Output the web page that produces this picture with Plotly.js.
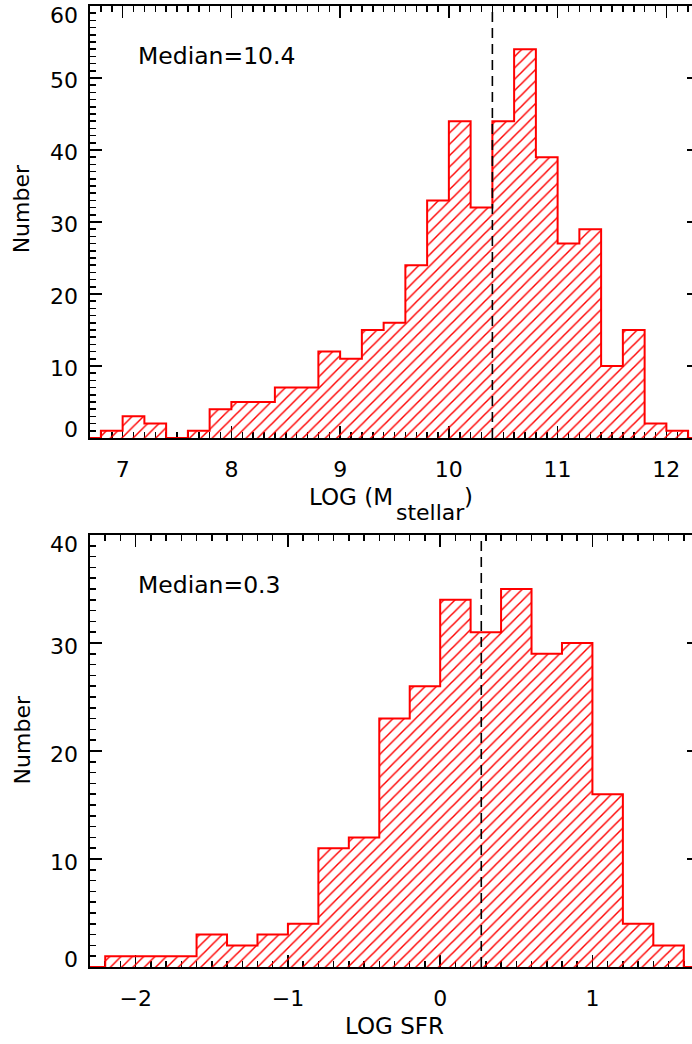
<!DOCTYPE html>
<html>
<head>
<meta charset="utf-8">
<script src="https://cdn.plot.ly/plotly-3.0.1.min.js"></script>
<style>
  html, body { margin: 0; padding: 0; overflow: hidden; background: #fff; }
  #chart { width: 700px; height: 1044px; }
</style>
</head>
<body>
<div id="chart"></div>
<script>
// Histogram bin width (dex)
const BIN_WIDTH = 0.2;

// Stellar mass histogram: left edge of each bin and its count
const massBins = [6.8, 7.0, 7.2, 7.4, 7.6, 7.8, 8.0, 8.2, 8.4, 8.6, 8.8, 9.0, 9.2, 9.4,
                  9.6, 9.8, 10.0, 10.2, 10.4, 10.6, 10.8, 11.0, 11.2, 11.4, 11.6, 11.8, 12.0];
const massCounts = [1, 3, 2, 0, 1, 4, 5, 5, 7, 7, 12, 11, 15, 16,
                    24, 33, 44, 32, 44, 54, 39, 27, 29, 10, 15, 2, 1];
const massMedian = 10.4;
const massTicks = [7, 8, 9, 10, 11, 12];
const massCountTicks = [0, 10, 20, 30, 40, 50, 60];

// Star formation rate histogram
const sfrBins = [-2.2, -2.0, -1.8, -1.6, -1.4, -1.2, -1.0, -0.8, -0.6, -0.4,
                 -0.2, 0.0, 0.2, 0.4, 0.6, 0.8, 1.0, 1.2, 1.4];
const sfrCounts = [1, 1, 1, 3, 2, 3, 4, 11, 12, 23,
                   26, 34, 31, 35, 29, 30, 16, 4, 2];
const sfrMedian = 0.27;
const sfrTicks = [-2, -1, 0, 1];
const sfrCountTicks = [0, 10, 20, 30, 40];

const massRange = [6.7, 12.3];
const sfrRange = [-2.3, 1.7];

const RED = '#ff0000';
const FONT = 'DejaVu Sans';

// Outline of a histogram as a stepped path, running along zero outside the bins
function stepOutline(bins, counts, range) {
  const x = [range[0]], y = [0];
  bins.forEach((b, i) => { x.push(b); y.push(counts[i]); });
  x.push(bins[bins.length - 1] + BIN_WIDTH); y.push(0);
  x.push(range[1]); y.push(0);
  return { x, y };
}

function hatchedBars(bins, counts, xa, ya) {
  return {
    type: 'bar',
    x: bins.map(b => b + BIN_WIDTH / 2),
    y: counts,
    width: BIN_WIDTH,
    xaxis: xa, yaxis: ya,
    hoverinfo: 'skip',
    marker: {
      color: 'rgba(255,255,255,0)',
      line: { width: 0 },
      pattern: { shape: '/', fgcolor: RED, bgcolor: 'rgba(255,255,255,0)',
                 size: 8, solidity: 0.18, fillmode: 'replace' }
    }
  };
}

function outlineTrace(bins, counts, range, xa, ya) {
  const s = stepOutline(bins, counts, range);
  return {
    type: 'scatter', mode: 'lines',
    x: s.x, y: s.y, xaxis: xa, yaxis: ya,
    line: { color: RED, width: 2, shape: 'hv' },
    hoverinfo: 'skip'
  };
}

const traces = [
  hatchedBars(massBins, massCounts, 'x', 'y'),
  outlineTrace(massBins, massCounts, massRange, 'x', 'y'),
  hatchedBars(sfrBins, sfrCounts, 'x2', 'y2'),
  outlineTrace(sfrBins, sfrCounts, sfrRange, 'x2', 'y2')
];

function axisStyle(extra) {
  return Object.assign({
    ticks: 'inside', ticklen: 12, tickwidth: 1.5, tickcolor: '#000',
    showline: true, linewidth: 2, linecolor: '#000', mirror: 'ticks',
    showgrid: false, zeroline: false, layer: 'below traces',
    fixedrange: true
  }, extra);
}

function minorStyle(dtick) {
  return { tickmode: 'linear', tick0: 0, dtick: dtick, ticks: 'inside',
           ticklen: 6, tickwidth: 1.5, tickcolor: '#000', showgrid: false };
}

// Count labels on the left: end labels are nudged inward so they sit inside the frame
function countLabels(ticks, yref) {
  const last = ticks.length - 1;
  return ticks.map((v, i) => ({
    xref: 'paper', yref: yref, x: -0.0164, y: v,
    xanchor: 'right', yanchor: 'middle', showarrow: false,
    yshift: i === 0 ? 8 : (i === last ? -9 : -3),
    text: String(v), font: { size: 22 }
  }));
}

const layout = {
  width: 700, height: 1044,
  margin: { l: 90, r: 1, t: 6, b: 77 },
  paper_bgcolor: '#fff', plot_bgcolor: '#fff',
  showlegend: false,
  bargap: 0,
  font: { family: FONT, size: 22, color: '#000' },
  xaxis: axisStyle({ anchor: 'y', domain: [0, 1], range: massRange,
    tickmode: 'array', tickvals: massTicks, ticktext: massTicks.map(String),
    minor: minorStyle(0.1), ticklabelstandoff: 11 }),
  yaxis: axisStyle({ anchor: 'x', domain: [0.5505, 1], range: [0, 60],
    tickmode: 'array', tickvals: massCountTicks, showticklabels: false,
    minor: minorStyle(1) }),
  xaxis2: axisStyle({ anchor: 'y2', domain: [0, 1], range: sfrRange,
    tickmode: 'array', tickvals: sfrTicks,
    ticktext: sfrTicks.map(v => v < 0 ? '\u2212' + Math.abs(v) : String(v)),
    minor: minorStyle(0.1), ticklabelstandoff: 11 }),
  yaxis2: axisStyle({ anchor: 'x2', domain: [0, 0.4495], range: [0, 40],
    tickmode: 'array', tickvals: sfrCountTicks, showticklabels: false,
    minor: minorStyle(1) }),
  shapes: [
    { type: 'line', xref: 'x', yref: 'y domain', x0: massMedian, x1: massMedian, y0: 0, y1: 1,
      line: { color: '#000', width: 1.6, dash: '10px,6px' } },
    { type: 'line', xref: 'x2', yref: 'y2 domain', x0: sfrMedian, x1: sfrMedian, y0: 0, y1: 1,
      line: { color: '#000', width: 1.6, dash: '10px,6px' } }
  ],
  annotations: [
    { xref: 'x domain', yref: 'y domain', x: 0.0755, y: 0.884, xanchor: 'left', yanchor: 'middle',
      text: 'Median=' + massMedian.toFixed(1), showarrow: false, font: { size: 23.5 } },
    { xref: 'x2 domain', yref: 'y2 domain', x: 0.0755, y: 0.884, xanchor: 'left', yanchor: 'middle',
      text: 'Median=' + sfrMedian.toFixed(1), showarrow: false, font: { size: 23.5 } },
    // LOG (M_stellar), built from three pieces so the subscript sits well below the baseline
    { xref: 'paper', yref: 'paper', x: 0.5008, y: 0.4886, xanchor: 'right', yanchor: 'middle',
      text: 'LOG (M', showarrow: false, font: { size: 23 } },
    { xref: 'paper', yref: 'paper', x: 0.4995, y: 0.4732, xanchor: 'left', yanchor: 'middle',
      text: 'stellar', showarrow: false, font: { size: 22 } },
    { xref: 'paper', yref: 'paper', x: 0.6115, y: 0.4886, xanchor: 'left', yanchor: 'middle',
      text: ')', showarrow: false, font: { size: 23 } },
    { xref: 'paper', yref: 'paper', x: 0.5, y: -0.0619, xanchor: 'center', yanchor: 'middle',
      text: 'LOG SFR', showarrow: false, font: { size: 23 } },
    { xref: 'paper', yref: 'paper', x: -0.111, y: 0.7888, xanchor: 'center', yanchor: 'middle',
      text: 'Number', textangle: -90, showarrow: false, font: { size: 22 } },
    { xref: 'paper', yref: 'paper', x: -0.111, y: 0.2362, xanchor: 'center', yanchor: 'middle',
      text: 'Number', textangle: -90, showarrow: false, font: { size: 22 } }
  ].concat(countLabels(massCountTicks, 'y'), countLabels(sfrCountTicks, 'y2'))
};

Plotly.newPlot('chart', traces, layout, { staticPlot: true, displayModeBar: false });
</script>
</body>
</html>
